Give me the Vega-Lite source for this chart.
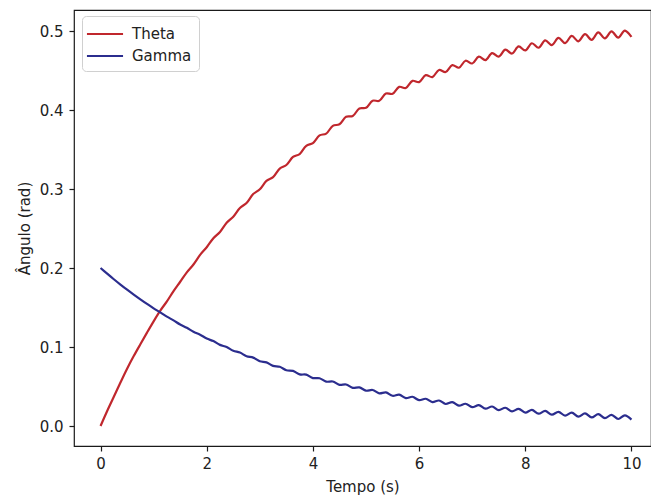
{
"$schema": "https://vega.github.io/schema/vega-lite/v6.json",
"width": 577, "height": 436,
"autosize": {"type": "none"},
"padding": {"left": 74, "top": 10, "right": 0, "bottom": 50},
"background": "white",
"config": {
 "font": "DejaVu Sans",
 "view": {"stroke": "#1a1a1a", "strokeWidth": 1.2},
 "axis": {"domain": false, "grid": false, "tickColor": "#1a1a1a", "tickWidth": 1.2, "tickSize": 5, "labelFontSize": 15, "labelColor": "#222", "titleFontSize": 15, "titleFontWeight": "normal", "titleColor": "#222", "labelFont": "DejaVu Sans", "titleFont": "DejaVu Sans"}
},
"data": {"values": [
{"t":0,"Theta":0,"Gamma":0.2},
{"t":0.125,"Theta":0.019,"Gamma":0.1928},
{"t":0.25,"Theta":0.037,"Gamma":0.1858},
{"t":0.375,"Theta":0.055,"Gamma":0.1791},
{"t":0.5,"Theta":0.0725,"Gamma":0.1726},
{"t":0.625,"Theta":0.0885,"Gamma":0.1664},
{"t":0.75,"Theta":0.1035,"Gamma":0.1604},
{"t":0.875,"Theta":0.1182,"Gamma":0.1546},
{"t":1,"Theta":0.1325,"Gamma":0.149},
{"t":1.125,"Theta":0.146,"Gamma":0.1438},
{"t":1.25,"Theta":0.1578,"Gamma":0.1384},
{"t":1.375,"Theta":0.1708,"Gamma":0.1337},
{"t":1.5,"Theta":0.1826,"Gamma":0.1285},
{"t":1.625,"Theta":0.1945,"Gamma":0.1243},
{"t":1.75,"Theta":0.2045,"Gamma":0.1192},
{"t":1.875,"Theta":0.2166,"Gamma":0.1156},
{"t":2,"Theta":0.2263,"Gamma":0.1107},
{"t":2.125,"Theta":0.2377,"Gamma":0.1075},
{"t":2.25,"Theta":0.2457,"Gamma":0.1027},
{"t":2.375,"Theta":0.2573,"Gamma":0.1},
{"t":2.5,"Theta":0.265,"Gamma":0.0953},
{"t":2.625,"Theta":0.276,"Gamma":0.093},
{"t":2.75,"Theta":0.2823,"Gamma":0.0884},
{"t":2.875,"Theta":0.2936,"Gamma":0.0866},
{"t":3,"Theta":0.2997,"Gamma":0.082},
{"t":3.125,"Theta":0.3102,"Gamma":0.0806},
{"t":3.25,"Theta":0.315,"Gamma":0.0761},
{"t":3.375,"Theta":0.3258,"Gamma":0.075},
{"t":3.5,"Theta":0.3304,"Gamma":0.0706},
{"t":3.625,"Theta":0.3406,"Gamma":0.0698},
{"t":3.75,"Theta":0.3443,"Gamma":0.0654},
{"t":3.875,"Theta":0.3547,"Gamma":0.065},
{"t":4,"Theta":0.3582,"Gamma":0.0607},
{"t":4.125,"Theta":0.3679,"Gamma":0.0605},
{"t":4.25,"Theta":0.3701,"Gamma":0.0562},
{"t":4.375,"Theta":0.38,"Gamma":0.0563},
{"t":4.5,"Theta":0.382,"Gamma":0.0521},
{"t":4.625,"Theta":0.3914,"Gamma":0.0525},
{"t":4.75,"Theta":0.3924,"Gamma":0.0483},
{"t":4.875,"Theta":0.402,"Gamma":0.0489},
{"t":5,"Theta":0.4028,"Gamma":0.0447},
{"t":5.125,"Theta":0.4118,"Gamma":0.0456},
{"t":5.25,"Theta":0.4116,"Gamma":0.0414},
{"t":5.375,"Theta":0.4209,"Gamma":0.0425},
{"t":5.5,"Theta":0.4205,"Gamma":0.0383},
{"t":5.625,"Theta":0.4293,"Gamma":0.0397},
{"t":5.75,"Theta":0.4279,"Gamma":0.0354},
{"t":5.875,"Theta":0.4369,"Gamma":0.037},
{"t":6,"Theta":0.4353,"Gamma":0.0327},
{"t":6.125,"Theta":0.4441,"Gamma":0.0345},
{"t":6.25,"Theta":0.4417,"Gamma":0.0303},
{"t":6.375,"Theta":0.4507,"Gamma":0.0323},
{"t":6.5,"Theta":0.4481,"Gamma":0.0279},
{"t":6.625,"Theta":0.4568,"Gamma":0.0302},
{"t":6.75,"Theta":0.4535,"Gamma":0.0258},
{"t":6.875,"Theta":0.4624,"Gamma":0.0282},
{"t":7,"Theta":0.4589,"Gamma":0.0238},
{"t":7.125,"Theta":0.4675,"Gamma":0.0264},
{"t":7.25,"Theta":0.4632,"Gamma":0.0219},
{"t":7.375,"Theta":0.4721,"Gamma":0.0247},
{"t":7.5,"Theta":0.4676,"Gamma":0.0202},
{"t":7.625,"Theta":0.4764,"Gamma":0.0231},
{"t":7.75,"Theta":0.4715,"Gamma":0.0185},
{"t":7.875,"Theta":0.4805,"Gamma":0.0217},
{"t":8,"Theta":0.4754,"Gamma":0.017},
{"t":8.125,"Theta":0.4845,"Gamma":0.0204},
{"t":8.25,"Theta":0.4788,"Gamma":0.0156},
{"t":8.375,"Theta":0.4881,"Gamma":0.0191},
{"t":8.5,"Theta":0.4822,"Gamma":0.0143},
{"t":8.625,"Theta":0.4912,"Gamma":0.018},
{"t":8.75,"Theta":0.4846,"Gamma":0.0131},
{"t":8.875,"Theta":0.4938,"Gamma":0.0169},
{"t":9,"Theta":0.487,"Gamma":0.0119},
{"t":9.125,"Theta":0.4961,"Gamma":0.0159},
{"t":9.25,"Theta":0.4888,"Gamma":0.0109},
{"t":9.375,"Theta":0.4982,"Gamma":0.015},
{"t":9.5,"Theta":0.4907,"Gamma":0.0099},
{"t":9.625,"Theta":0.4995,"Gamma":0.0142},
{"t":9.75,"Theta":0.4917,"Gamma":0.0089},
{"t":9.875,"Theta":0.5005,"Gamma":0.0134},
{"t":10,"Theta":0.4925,"Gamma":0.0081}
]},
"transform": [{"fold": ["Theta", "Gamma"], "as": ["serie", "valor"]}],
"mark": {"type": "line", "strokeWidth": 2.2, "interpolate": "catmull-rom", "clip": true},
"encoding": {
 "x": {"field": "t", "type": "quantitative",
  "scale": {"domain": [-0.5, 10.368], "nice": false, "zero": false},
  "axis": {"values": [0, 2, 4, 6, 8, 10], "title": "Tempo (s)", "labelPadding": 5, "titlePadding": 8}},
 "y": {"field": "valor", "type": "quantitative",
  "scale": {"domain": [-0.0253, 0.5266], "nice": false, "zero": false},
  "axis": {"values": [0, 0.1, 0.2, 0.3, 0.4, 0.5], "format": ".1f", "title": "Ângulo (rad)", "labelPadding": 6, "titlePadding": 7}},
 "color": {"field": "serie", "type": "nominal",
  "scale": {"domain": ["Theta", "Gamma"], "range": ["#c0272d", "#2b2d8e"]},
  "legend": {"title": null, "orient": "none", "legendX": 8, "legendY": 6, "symbolType": "M-1.9,0H1.9", "symbolSize": 361, "symbolStrokeWidth": 2.2, "symbolOffset": 5, "labelOffset": 16, "labelFontSize": 15, "labelColor": "#222", "labelFont": "DejaVu Sans", "strokeColor": "#d0d0d0", "fillColor": "white", "cornerRadius": 4, "padding": 7, "rowPadding": 3}}
}
}
